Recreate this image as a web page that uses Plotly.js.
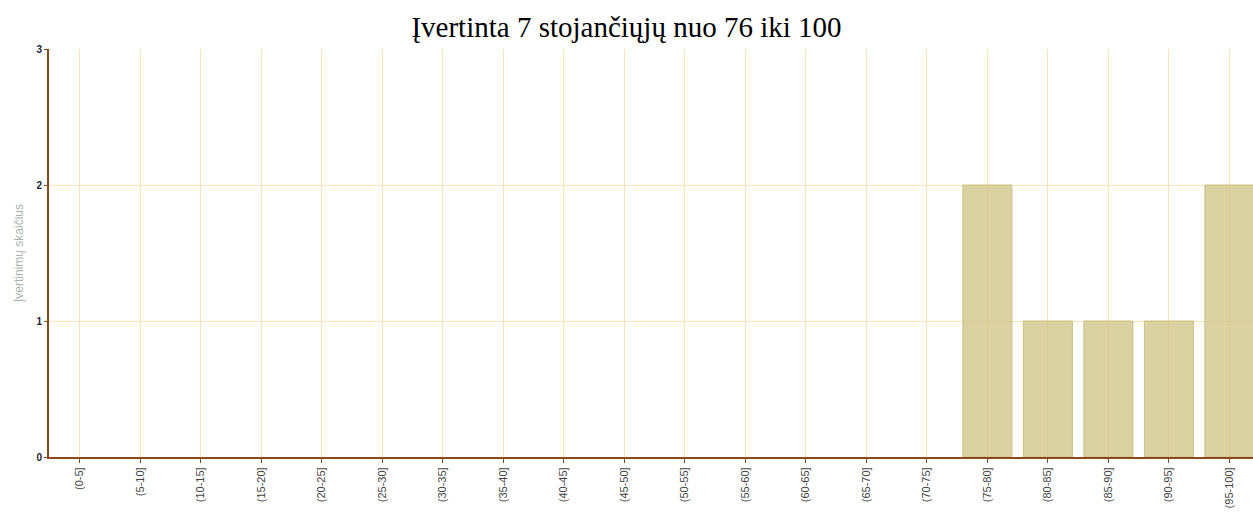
<!DOCTYPE html>
<html><head><meta charset="utf-8">
<script src="https://cdn.plot.ly/plotly-3.0.1.min.js"></script>
<style>body{margin:0;background:#fff}#c{width:1253px;height:512px}</style>
</head><body><div id="c"></div>
<script>
const categories = ["(0-5]","(5-10]","(10-15]","(15-20]","(20-25]","(25-30]","(30-35]","(35-40]","(40-45]","(45-50]","(50-55]","(55-60]","(60-65]","(65-70]","(70-75]","(75-80]","(80-85]","(85-90]","(90-95]","(95-100]"];
const counts = [0,0,0,0,0,0,0,0,0,0,0,0,0,0,0,2,1,1,1,2];
const yTicks = [0,1,2,3];
const titleText = "Įvertinta 7 stojančiųjų nuo 76 iki 100";
const yTitle = "Įvertinimų skaičius";

const trace = {
  type: 'bar', x: categories, y: counts, width: 0.81,
  marker: {color: 'rgba(205,192,128,0.72)', line: {color: '#cdbf85', width: counts.map(v => v > 0 ? 1 : 0)}},
  hoverinfo: 'x+y'
};
const layout = {
  width: 1253, height: 512,
  margin: {l: 49, r: 0, t: 49, b: 55},
  paper_bgcolor: '#fff', plot_bgcolor: '#fff',
  showlegend: false,
  title: {text: titleText, font: {family: 'Liberation Serif, Times New Roman, serif', size: 29, color: '#000'}, x: 0.5, xanchor: 'center', y: 0.947, yanchor: 'middle'},
  xaxis: {
    type: 'category', range: [-0.51, 19.39],
    tickangle: -90, tickfont: {family: 'Liberation Sans, Arial, sans-serif', size: 11, color: '#444'},
    showgrid: true, gridcolor: '#f9e6b8', gridwidth: 1,
    showline: true, linecolor: '#8b4a1c', linewidth: 2,
    ticks: 'outside', ticklen: 4, tickcolor: '#8b4a1c', zeroline: false
  },
  yaxis: {
    range: [0, 3], tickvals: yTicks, ticktext: yTicks.map(v => '<b>' + v + '</b>'),
    tickfont: {family: 'Liberation Sans, Arial, sans-serif', size: 10, color: '#223'},
    showgrid: true, gridcolor: '#f9e6b8', gridwidth: 1,
    showline: true, linecolor: '#8b4a1c', linewidth: 2,
    ticks: 'outside', ticklen: 3, tickcolor: '#8b4a1c', zeroline: false,
    title: {text: yTitle, font: {family: 'Liberation Sans, Arial, sans-serif', size: 12, color: '#a8b4ac'}, standoff: 10}
  }
};
Plotly.newPlot('c', [trace], layout, {displayModeBar: false});
</script></body></html>
